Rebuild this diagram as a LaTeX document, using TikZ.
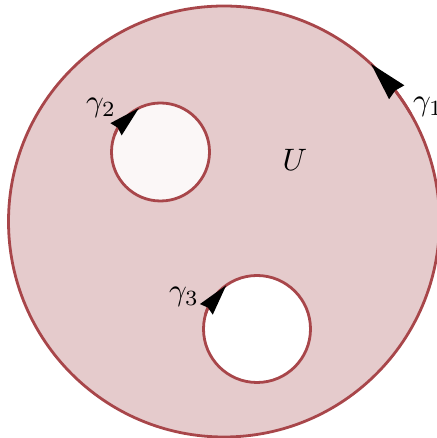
\documentclass[tikz,border=0pt]{standalone}
\usetikzlibrary{arrows.meta,bending,calc}
\definecolor{rim}{HTML}{A8464A}
\definecolor{region}{HTML}{E5CBCC}
\definecolor{holeA}{HTML}{FBF7F7}
\tikzset{
  rimline/.style={draw=rim,line width=2.8pt},
  orient/.style args={#1/#2}{rim,line width=2.8pt,-{Stealth[color=black,inset=2pt,length=#1,width=#2]}},
  lab/.style={inner sep=0pt}
}
\newcommand{\biglab}[1]{\scalebox{3.1}{$#1$}}
\begin{document}
\begin{tikzpicture}[x=1pt,y=1pt]
\useasboundingbox (0,0) rectangle (436,438);
\coordinate (c0) at (224,216.5);
\coordinate (c1) at (160.5,286);
\coordinate (c2) at (257,109);
\fill[region] (c0) circle[radius=215.5];
\fill[holeA] (c1) circle[radius=49];
\fill[white] (c2) circle[radius=53.5];
\draw[rimline] (c0) circle[radius=215.5];
\draw[rimline] (c1) circle[radius=49];
\draw[rimline] (c2) circle[radius=53.5];
\draw[orient=38pt/20pt] ($(c0)+(30:215.5)$) arc[start angle=30,end angle=47,radius=215.5];
\draw[orient=31pt/16pt] ($(c1)+(160:49)$) arc[start angle=160,end angle=116,radius=49];
\draw[orient=31pt/16pt] ($(c2)+(165:53.5)$) arc[start angle=165,end angle=125,radius=53.5];
\node[lab] (g1) at (428,331) {\biglab{\gamma_1}};
\node[lab] (g2) at (101,330) {\biglab{\gamma_2}};
\node[lab] (g3) at (184,141) {\biglab{\gamma_3}};
\node[lab] (u) at (295,278) {\biglab{U}};
\end{tikzpicture}
\end{document}
